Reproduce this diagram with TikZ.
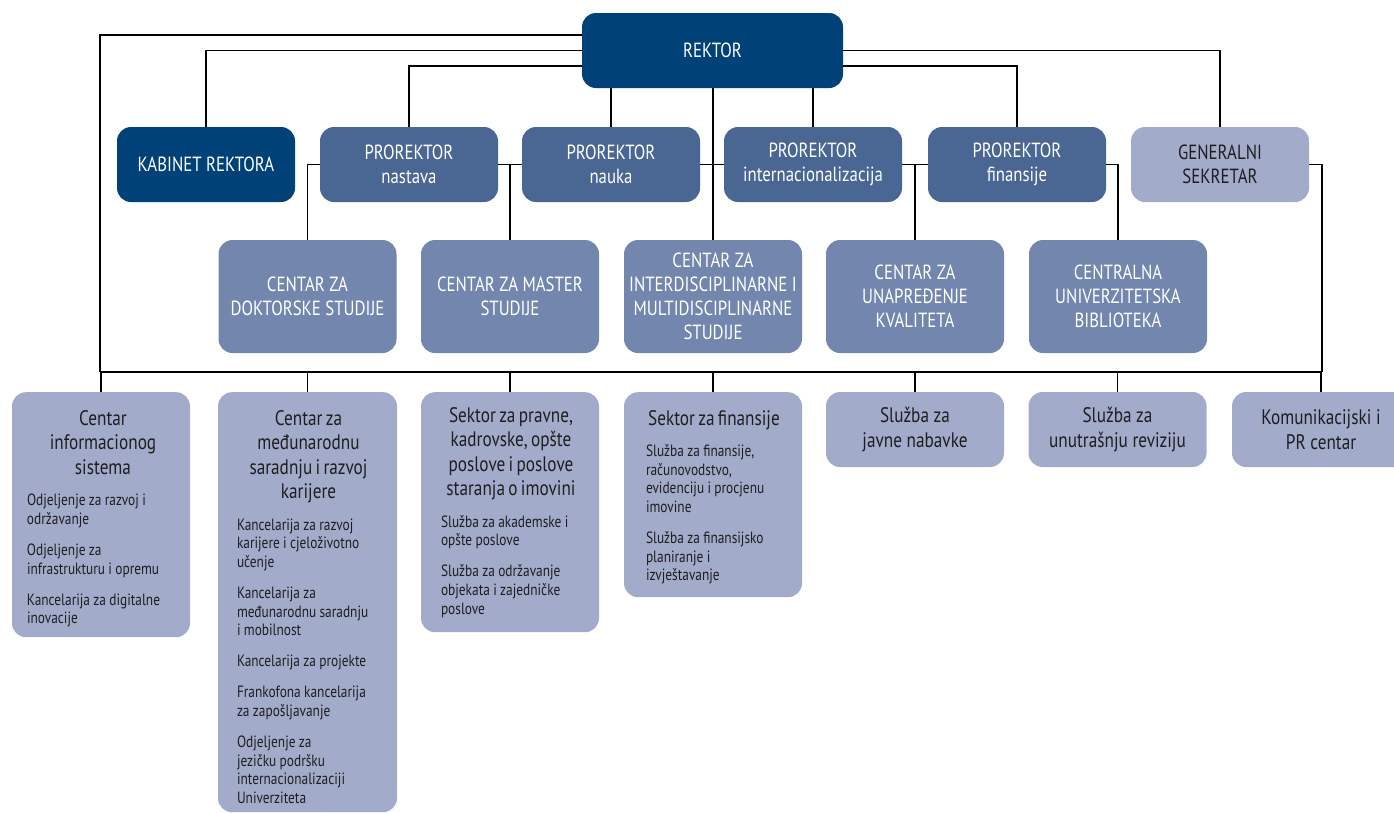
\documentclass[tikz,border=0pt]{standalone}
\usepackage{fontspec}
\setmainfont[FakeStretch=0.82]{PT Sans}
\setlength\parindent{0pt}
\definecolor{navy}{RGB}{0,65,119}
\definecolor{prorek}{RGB}{74,103,148}
\definecolor{centar}{RGB}{115,134,174}
\definecolor{light}{RGB}{163,171,202}
\definecolor{ink}{RGB}{30,30,32}
\newcommand\hfont{\fontsize{20.5}{24}\selectfont}
\newcommand\tfont{\fontsize{21}{24.5}\selectfont}
\newcommand\sfont{\fontsize{16.3}{18.6}\selectfont}
\begin{document}
\begin{tikzpicture}[x=1pt,y=-1pt,
  box/.style={rounded corners=14pt, minimum width=178pt, align=center, inner sep=0pt, font=\hfont},
  dark/.style={box, fill=navy, text=white},
  pro/.style={box, fill=prorek, text=white, minimum height=75pt},
  cen/.style={box, fill=centar, text=white, minimum height=113pt},
  lite/.style={box, fill=light, text=ink, font=\tfont},
  inner/.style={anchor=north, inner sep=0pt, align=left, text=ink},
  conn/.style={draw=black, line width=1.2pt}]
\useasboundingbox (0,0) rectangle (1394,812);

% row 1
\node[dark, minimum width=261pt, minimum height=75pt] (rektor) at (712.5,50.5) {REKTOR};

% row 2
\node[dark, minimum height=75pt] (kab) at (206,164.5) {KABINET REKTORA};
\node[pro] (nastava) at (409,164.5) {PROREKTOR\\nastava};
\node[pro] (nauka) at (611,164.5) {PROREKTOR\\nauka};
\node[pro] (internac) at (813,164.5) {PROREKTOR\\internacionalizacija};
\node[pro] (fin) at (1017,164.5) {PROREKTOR\\finansije};
\node[lite, font=\hfont, minimum height=75pt] (gen) at (1220,164.5) {GENERALNI\\SEKRETAR};

% row 3
\node[cen] (dokt) at (307.5,296.5) {CENTAR ZA\\DOKTORSKE STUDIJE};
\node[cen] (master) at (510,296.5) {CENTAR ZA MASTER\\STUDIJE};
\node[cen] (interdisc) at (713,296.5) {CENTAR ZA\\INTERDISCIPLINARNE I\\MULTIDISCIPLINARNE\\STUDIJE};
\node[cen] (unap) at (915,296.5) {CENTAR ZA\\UNAPREĐENJE\\KVALITETA};
\node[cen] (biblio) at (1118,296.5) {CENTRALNA\\UNIVERZITETSKA\\BIBLIOTEKA};

% row 4
\node[lite, anchor=north, minimum height=245pt] (b1) at (101,392) {};
\node[lite, anchor=north, minimum width=179pt, minimum height=420pt] (b2) at (307.5,392) {};
\node[lite, anchor=north, minimum height=240pt] (b3) at (510,392) {};
\node[lite, anchor=north, minimum height=205pt] (b4) at (713,392) {};
\node[lite, minimum height=75pt] (b5) at (915,429.5) {Služba za\\javne nabavke};
\node[lite, minimum height=75pt] (b6) at (1117.5,429.5) {Služba za\\unutrašnju reviziju};
\node[lite, minimum height=75pt] (b7) at (1321,429.5) {Komunikacijski i\\PR centar};

\node[inner, text width=152pt] (b1t) at (103,410) {%
{\centering\tfont Centar\\informacionog\\sistema\par}\vspace{13pt}
{\sfont Odjeljenje za razvoj i\\održavanje\par}\vspace{12.5pt}
{\sfont Odjeljenje za\\infrastrukturu i opremu\par}\vspace{12.5pt}
{\sfont Kancelarija za digitalne\\inovacije\par}};

\node[inner, text width=143pt] (b2t) at (308.5,410) {%
{\centering\tfont Centar za\\međunarodnu\\saradnju i razvoj\\karijere\par}\vspace{13pt}
{\sfont Kancelarija za razvoj\\karijere i cjeloživotno\\učenje\par}\vspace{12.5pt}
{\sfont Kancelarija za\\međunarodnu saradnju\\i mobilnost\par}\vspace{12.5pt}
{\sfont Kancelarija za projekte\par}\vspace{12.5pt}
{\sfont Frankofona kancelarija\\za zapošljavanje\par}\vspace{12.5pt}
{\sfont Odjeljenje za\\jezičku podršku\\internacionalizaciji\\Univerziteta\par}};

\node[inner, text width=140pt] (b3t) at (511,407) {%
{\centering\tfont Sektor za pravne,\\kadrovske, opšte\\poslove i poslove\\staranja o imovini\par}\vspace{13pt}
{\sfont Služba za akademske i\\opšte poslove\par}\vspace{12.5pt}
{\sfont Služba za održavanje\\objekata i zajedničke\\poslove\par}};

\node[inner, text width=136pt] (b4t) at (714,410) {%
{\centering\tfont Sektor za finansije\par}\vspace{13pt}
{\sfont Služba za finansije,\\računovodstvo,\\evidenciju i procjenu\\imovine\par}\vspace{12.5pt}
{\sfont Služba za finansijsko\\planiranje i\\izvještavanje\par}};

% connectors
\coordinate (busL) at (100,372);
\coordinate (busR) at (1322,372);
\draw[conn] ([yshift=15.5pt]rektor.west) -| (busL);
\draw[conn] (rektor.west) -| (kab.north);
\draw[conn] ([yshift=-15.5pt]rektor.west) -| (nastava.north);
\draw[conn] (rektor.east) -| (gen.north);
\draw[conn] ([yshift=-15.5pt]rektor.east) -| (fin.north);
\draw[conn] (rektor.south -| nauka.north) -- (nauka.north);
\draw[conn] (rektor.south -| interdisc.north) -- (interdisc.north);
\draw[conn] (rektor.south -| internac.north) -- (internac.north);
\draw[conn] (nastava.west) -| (dokt.north);
\draw[conn] (nastava.east) -- (nauka.west);
\draw[conn] (nastava.east -| master.north) -- (master.north);
\draw[conn] (nauka.east) -- (internac.west);
\draw[conn] (internac.east) -- (fin.west);
\draw[conn] (internac.east -| unap.north) -- (unap.north);
\draw[conn] (fin.east) -| (biblio.north);
\draw[conn] (gen.east) -| (busR);
\draw[conn] (busL) -- (busR);
\foreach \b in {b1,b2,b3,b4,b5,b6,b7}
  \draw[conn] (busL -| \b.north) -- (\b.north);
\end{tikzpicture}
\end{document}
